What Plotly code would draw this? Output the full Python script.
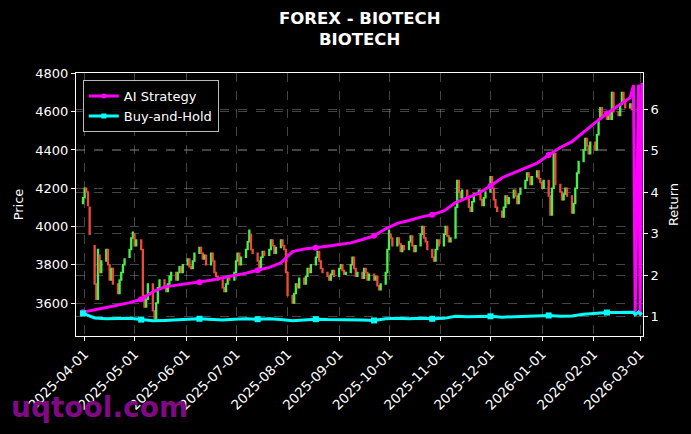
import plotly.graph_objects as go
import pandas as pd

# ---- candle data: one row per trading week (Mon..Fri) ----
open_weeks = [
    [4120, 4150, 4200, 4180, 4100],
    [3900, 3700, 3620, 3850, 3760],
    [3820, 3880, 3800, 3720, 3780],
    [3700, 3650, 3720, 3760, 3800],
    [3840, 3880, 3940, 3960, 3900],
    [3930, 3880, 3640, 3580, 3620],
    [3700, 3560, 3520, 3600, 3680],
    [3720, 3680, 3660, 3700, 3720],
    [3760, 3720, 3760, 3790, 3760],
    [3800, 3830, 3790, 3780, 3820],
    [3860, 3890, 3860, 3830, 3850],
    [3800, 3860, 3820, 3760, 3740],
    [3720, 3680, 3660, 3700, 3740],
    [3720, 3760, 3820, 3860, 3800],
    [3840, 3880, 3920, 3960, 3880],
    [3860, 3820, 3780, 3840, 3870],
    [3850, 3880, 3930, 3900, 3860],
    [3890, 3930, 3900, 3880, 3760],
    [3640, 3600, 3650, 3700, 3680],
    [3730, 3700, 3740, 3780, 3760],
    [3800, 3840, 3870, 3820, 3780],
    [3760, 3740, 3720, 3750, 3770],
    [3740, 3780, 3800, 3770, 3750],
    [3760, 3800, 3840, 3780, 3740],
    [3760, 3730, 3780, 3760, 3720],
    [3750, 3720, 3740, 3690, 3670],
    [3700, 3760, 3880, 3960, 3940],
    [3900, 3940, 3910, 3870, 3900],
    [3880, 3920, 3950, 3900, 3870],
    [3900, 3960, 4000, 3940, 3920],
    [3880, 3840, 3820, 3880, 3930],
    [3900, 3960, 4000, 3950, 3920],
    [3940, 4100, 4240, 4180, 4150],
    [4190, 4150, 4100, 4080, 4130],
    [4170, 4190, 4140, 4110, 4150],
    [4180, 4260, 4200, 4140, 4100],
    [4080, 4050, 4100, 4160, 4120],
    [4150, 4190, 4160, 4120, 4170],
    [4200, 4240, 4280, 4260, 4220],
    [4260, 4290, 4250, 4230, 4200],
    [4240, 4160, 4060, 4200, 4380],
    [4220, 4180, 4140, 4170, 4200],
    [4160, 4070, 4120, 4200, 4280],
    [4340, 4400, 4460, 4420, 4380],
    [4440, 4400, 4480, 4560, 4620],
    [4580, 4560, 4600, 4560, 4700],
    [4600, 4580, 4640, 4700, 4660],
    [4620, 4640, 4610],
]
close_weeks = [
    [4150, 4200, 4180, 4110, 3960],
    [3700, 3620, 3880, 3760, 3820],
    [3880, 3800, 3720, 3780, 3700],
    [3650, 3720, 3760, 3800, 3830],
    [3880, 3940, 3970, 3900, 3930],
    [3880, 3640, 3580, 3620, 3700],
    [3560, 3520, 3600, 3680, 3720],
    [3680, 3660, 3700, 3740, 3760],
    [3720, 3760, 3790, 3760, 3800],
    [3830, 3790, 3780, 3820, 3860],
    [3890, 3860, 3830, 3850, 3800],
    [3860, 3820, 3760, 3740, 3720],
    [3680, 3660, 3700, 3740, 3720],
    [3760, 3820, 3860, 3800, 3840],
    [3880, 3920, 3980, 3880, 3860],
    [3820, 3780, 3840, 3870, 3850],
    [3880, 3930, 3900, 3860, 3890],
    [3930, 3900, 3880, 3760, 3640],
    [3600, 3650, 3700, 3680, 3730],
    [3700, 3740, 3780, 3760, 3800],
    [3840, 3870, 3820, 3780, 3760],
    [3740, 3720, 3750, 3770, 3740],
    [3780, 3800, 3770, 3750, 3760],
    [3800, 3840, 3780, 3740, 3760],
    [3730, 3780, 3760, 3720, 3750],
    [3720, 3740, 3690, 3670, 3700],
    [3760, 3880, 3980, 3940, 3900],
    [3940, 3910, 3870, 3900, 3880],
    [3920, 3950, 3900, 3870, 3900],
    [3960, 4000, 3940, 3920, 3880],
    [3840, 3820, 3880, 3930, 3900],
    [3960, 4000, 3950, 3920, 3940],
    [4100, 4240, 4180, 4150, 4190],
    [4150, 4100, 4080, 4130, 4170],
    [4190, 4140, 4110, 4150, 4180],
    [4260, 4200, 4140, 4100, 4080],
    [4050, 4100, 4160, 4120, 4150],
    [4190, 4160, 4120, 4170, 4200],
    [4240, 4280, 4260, 4220, 4260],
    [4290, 4250, 4230, 4200, 4240],
    [4160, 4060, 4200, 4380, 4220],
    [4180, 4140, 4170, 4200, 4160],
    [4070, 4120, 4200, 4280, 4340],
    [4400, 4460, 4420, 4380, 4440],
    [4400, 4480, 4560, 4620, 4580],
    [4560, 4600, 4560, 4700, 4600],
    [4580, 4640, 4700, 4660, 4620],
    [4640, 4610, 4660],
]

# ---- return lines: one value per week (Mondays), plus the tail ----
ai_weekly = [1.11, 1.16, 1.22, 1.28, 1.34, 1.42, 1.60, 1.72, 1.76, 1.79,
             1.83, 1.88, 1.94, 1.99, 2.05, 2.12, 2.19, 2.30, 2.57, 2.63,
             2.66, 2.70, 2.74, 2.78, 2.86, 2.95, 3.12, 3.25, 3.32, 3.40,
             3.46, 3.55, 3.75, 3.87, 3.98, 4.15, 4.35, 4.47, 4.58, 4.70,
             4.90, 5.08, 5.22, 5.46, 5.68, 5.90, 6.10, 6.28]
bh_weekly = [1.08, 0.97, 0.95, 0.95, 0.96, 0.93, 0.90, 0.91, 0.93, 0.94,
             0.95, 0.93, 0.92, 0.94, 0.95, 0.94, 0.95, 0.93, 0.90, 0.92,
             0.94, 0.93, 0.93, 0.93, 0.92, 0.91, 0.95, 0.96, 0.95, 0.96,
             0.95, 0.96, 1.01, 1.00, 1.00, 1.01, 0.99, 1.00, 1.02, 1.02,
             1.03, 1.01, 1.02, 1.06, 1.08, 1.10, 1.10, 1.10]
tail_dates = ["2026-02-25", "2026-02-26", "2026-02-28", "2026-03-01", "2026-03-02"]
ai_tail = [6.58, 1.03, 6.60, 1.05, 6.64]
bh_tail = [1.11, 1.05, 1.11, 1.06, 1.10]

# ---- build ----
candle_dates = pd.bdate_range("2025-03-31", "2026-02-25")
opens = [v for wk in open_weeks for v in wk]
closes = [v for wk in close_weeks for v in wk]
highs = [max(o, c) for o, c in zip(opens, closes)]
lows = [min(o, c) for o, c in zip(opens, closes)]
assert len(opens) == len(closes) == len(candle_dates)

week_dates = list(pd.date_range("2025-03-31", periods=len(ai_weekly), freq="7D"))
line_dates = week_dates + [pd.Timestamp(d) for d in tail_dates]
ai_vals = ai_weekly + ai_tail
bh_vals = bh_weekly + bh_tail
mark_idx = list(range(0, len(ai_weekly), 5))
mark_dates = [week_dates[i] for i in mark_idx]

FONT = "DejaVu Sans"
WHITE = "#ffffff"
GRID = "rgba(150,150,150,0.45)"
MAG = "#ff00ff"
CYA = "#00ffff"

fig = go.Figure()
fig.add_trace(go.Candlestick(
    x=candle_dates, open=opens, high=highs, low=lows, close=closes,
    increasing=dict(line=dict(color="#48f048", width=1.5), fillcolor="#48f048"),
    decreasing=dict(line=dict(color="#f0483a", width=1.5), fillcolor="#f0483a"),
    showlegend=False, whiskerwidth=0, yaxis="y",
))
for name, vals, col, sym in [("AI Strategy", ai_vals, MAG, "circle"),
                             ("Buy-and-Hold", bh_vals, CYA, "square")]:
    fig.add_trace(go.Scatter(
        x=line_dates, y=vals, yaxis="y2", mode="lines", showlegend=False,
        line=dict(color=col, width=3),
    ))
    fig.add_trace(go.Scatter(
        x=mark_dates, y=[vals[i] for i in mark_idx], yaxis="y2", mode="markers",
        showlegend=False,
        marker=dict(symbol=sym, size=6, color=col, line=dict(width=0)),
    ))
    fig.add_trace(go.Scatter(
        x=[None], y=[None], yaxis="y2", mode="lines+markers", name=name,
        line=dict(color=col, width=3),
        marker=dict(symbol=sym, size=5, color=col, line=dict(width=0)),
    ))

axis_common = dict(
    showline=True, linecolor=WHITE, linewidth=1, mirror=True,
    ticks="outside", ticklen=4, tickcolor=WHITE, tickwidth=1,
    tickfont=dict(family=FONT, size=13, color=WHITE),
    showgrid=True, gridcolor=GRID, gridwidth=0.6, griddash="dash",
    zeroline=False, automargin=False,
)
x_axis = dict(axis_common, tickfont=dict(family=FONT, size=13.5, color=WHITE))

fig.update_layout(
    width=691, height=434,
    paper_bgcolor="#000000", plot_bgcolor="#000000",
    margin=dict(l=76, r=48, t=73, b=98, autoexpand=False),
    font=dict(family=FONT, color=WHITE, size=13),
    xaxis=dict(
        **x_axis,
        type="date",
        range=["2025-03-26 19:00", "2026-03-02 17:00"],
        tick0="2025-04-01", dtick="M1", tickformat="%Y-%m-%d", tickangle=-45,
        rangeslider=dict(visible=False),
    ),
    yaxis=dict(
        **axis_common,
        range=[3428, 4802], dtick=200, tick0=3600,
        title=dict(text="Price", font=dict(family=FONT, size=13, color=WHITE), standoff=8),
    ),
    yaxis2=dict(
        **axis_common,
        overlaying="y", side="right",
        range=[0.535, 6.875], dtick=1, tick0=1,
        title=dict(text="Return", font=dict(family=FONT, size=13, color=WHITE), standoff=11),
    ),
    legend=dict(
        x=0.012, y=0.973, xanchor="left", yanchor="top",
        bgcolor="rgba(0,0,0,0.85)", bordercolor="#bbbbbb", borderwidth=1,
        font=dict(family=FONT, size=13, color=WHITE),
        tracegroupgap=2,
    ),
    showlegend=True,
)

for txt, ypix in [("<b>FOREX - BIOTECH</b>", 18), ("<b>BIOTECH</b>", 39)]:
    fig.add_annotation(
        text=txt, xref="paper", yref="paper", x=0.5, y=1 + (73 - ypix) / 263,
        xanchor="center", yanchor="middle", showarrow=False,
        font=dict(family=FONT, size=16.5, color=WHITE),
    )

fig.add_annotation(
    text="<b>uqtool.com</b>", xref="paper", yref="paper",
    x=-0.118, y=-0.27, xanchor="left", yanchor="middle",
    showarrow=False,
    font=dict(family=FONT, size=28, color="#800a84"),
)

fig.write_html(
    "out.html",
    config={"displayModeBar": False},
    post_script="document.body.style.margin='0';document.body.style.overflow='hidden';",
)
